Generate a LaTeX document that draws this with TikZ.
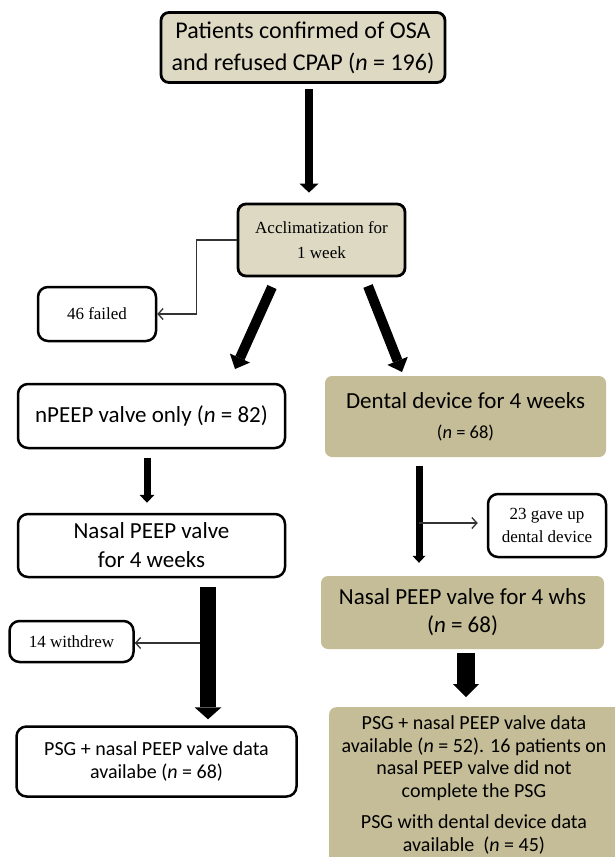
\documentclass[tikz,border=0pt]{standalone}
\usepackage{fontspec}
\setmainfont{Carlito}
\newfontfamily\tms{Liberation Serif}
\usetikzlibrary{arrows.meta}
\definecolor{tanL}{HTML}{DDD9C3}
\definecolor{tanD}{HTML}{C4BD97}
\begin{document}
\begin{tikzpicture}[x=1pt,y=-1pt,
  wbox/.style={draw=black, line width=2.5pt, rounded corners=10pt, fill=white, inner sep=0pt, align=center},
  lbox/.style={draw=black, line width=2.8pt, rounded corners=8pt, fill=tanL, inner sep=0pt, align=center},
  dbox/.style={fill=tanD, rounded corners=7pt, inner sep=0pt, align=center},
  bigarrow/.style={draw=black, line cap=butt},
  conn/.style={draw=black!80, line width=1.3pt, -{Straight Barb[length=5pt,width=11pt,line width=1.3pt]}},
  serif17/.style={font=\tms\fontsize{17}{23}\selectfont},
  sans23/.style={font=\fontsize{23}{28}\selectfont},
  sans20/.style={font=\fontsize{20}{22.5}\selectfont}
]
\useasboundingbox (0,0) rectangle (614,857);

% boxes
\node[lbox, minimum width=284pt, minimum height=70pt, font=\fontsize{24}{32}\selectfont] (top) at (303,47.5)
  {Patients confirmed of OSA\\and refused CPAP (\textit{n} = 196)};
\node[lbox, minimum width=167pt, minimum height=72pt, font=\tms\fontsize{17}{25}\selectfont] (accl) at (321.5,240)
  {Acclimatization for\\1 week};
\node[wbox, serif17, minimum width=118pt, minimum height=54pt] (failed) at (97,314) {46 failed};
\node[wbox, sans23, minimum width=267pt, minimum height=64pt] (npeep) at (151.5,416) {nPEEP valve only (\textit{n} = 82)};
\node[dbox, minimum width=281pt, minimum height=81pt, font=\fontsize{23}{30}\selectfont] (dental) at (465.5,416.5)
  {Dental device for 4 weeks\\\fontsize{18.5}{22}\selectfont(\textit{n} = 68)};
\node[wbox, sans23, minimum width=267pt, minimum height=63pt, font=\fontsize{23}{29}\selectfont] (nasal) at (151.5,545.5) {Nasal PEEP valve\\for 4 weeks};
\node[wbox, serif17, minimum width=118pt, minimum height=63pt] (gave) at (547,525.5) {23 gave up\\dental device};
\node[dbox, sans23, minimum width=283pt, minimum height=73pt] (whs) at (462.5,612.5)
  {Nasal PEEP valve for 4 whs\\(\textit{n} = 68)};
\node[wbox, serif17, minimum width=124pt, minimum height=41pt] (withdrew) at (71.5,641.5) {14 withdrew};
\node[wbox, sans20, minimum width=280pt, minimum height=70pt] (psgL) at (156.5,761.5)
  {PSG + nasal PEEP valve data\\availabe (\textit{n} = 68)};
\node[dbox, anchor=north west, minimum width=300pt, minimum height=170pt] (psgR) at (329,707) {};
\node[sans20, align=center] (psgRt) at (474,785)
  {PSG + nasal PEEP valve data\\available (\textit{n} = 52). 16 patients on\\nasal PEEP valve did not\\complete the PSG\\[9pt]PSG with dental device data\\available~ (\textit{n}~=~45)};

% x reference coordinates
\coordinate (x309) at (309,0);
\coordinate (x147) at (147,0);
\coordinate (x419) at (419,0);
\coordinate (x466) at (466,0);
\coordinate (x208) at (208,0);

% thick arrows
\draw[bigarrow, line width=8pt, -{Triangle[width=19pt,length=9pt,line width=0pt]}, shorten <=5pt, shorten >=10pt]
  (top.south -| x309) -- (accl.north -| x309);
\coordinate (dLs) at (272,287);
\coordinate (dLe) at (235,369);
\coordinate (dRs) at (368,286);
\coordinate (dRe) at (402,372);
\draw[bigarrow, line width=10pt, -{Triangle[width=22pt,length=12pt,line width=0pt]}] (dLs) -- (dLe);
\draw[bigarrow, line width=10pt, -{Triangle[width=22pt,length=12pt,line width=0pt]}] (dRs) -- (dRe);
\draw[bigarrow, line width=7pt, -{Triangle[width=15pt,length=8pt,line width=0pt]}, shorten <=9pt, shorten >=10pt]
  (npeep.south -| x147) -- (nasal.north -| x147);
\draw[bigarrow, line width=7pt, -{Triangle[width=13pt,length=7pt,line width=0pt]}, shorten <=9pt, shorten >=13pt]
  (dental.south -| x419) -- (whs.north -| x419);
\draw[bigarrow, line width=18pt, -{Triangle[width=26pt,length=13pt,line width=0pt]}, shorten <=4pt, shorten >=10pt]
  (whs.south -| x466) -- (psgR.north -| x466);
\draw[bigarrow, line width=16pt, -{Triangle[width=27pt,length=12pt,line width=0pt]}, shorten <=9pt, shorten >=6pt]
  (nasal.south -| x208) -- (psgL.north -| x208);

% thin connectors
\draw[conn] (accl.west) -- ++(-40,0) |- (failed.east);
\coordinate (br) at (419,523);
\draw[conn, shorten >=9pt] (br) -- (br -| gave.west);
\coordinate (wd) at (200,643);
\draw[conn] (wd) -- (wd -| withdrew.east);
\end{tikzpicture}
\end{document}
